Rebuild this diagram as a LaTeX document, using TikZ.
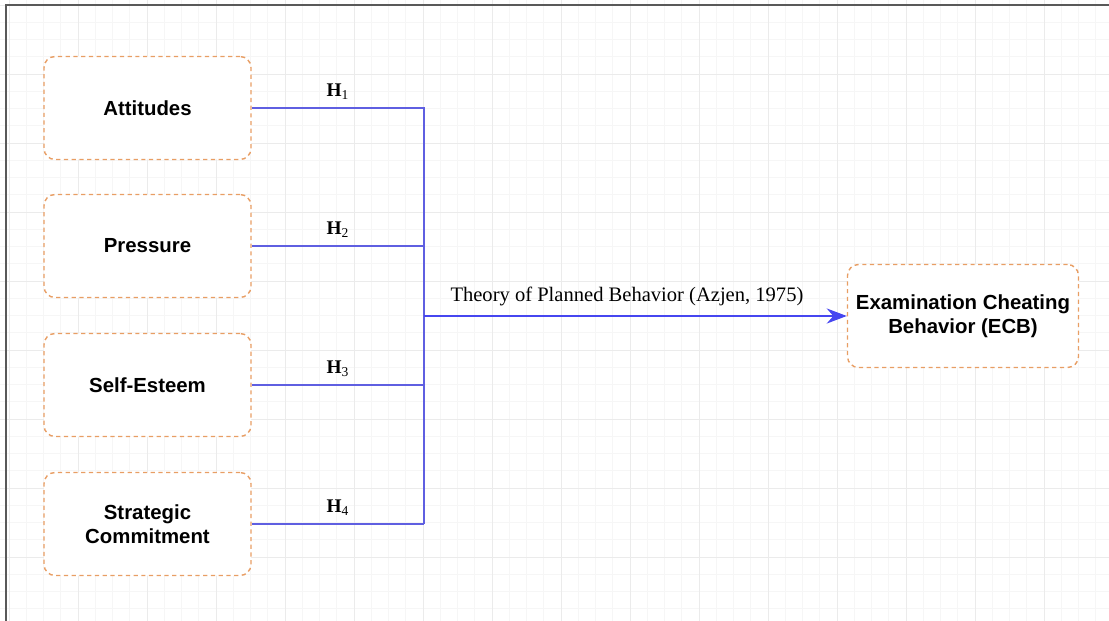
\documentclass[tikz,border=0pt]{standalone}
\usepackage{fontspec}
\setmainfont{Liberation Sans}
\newfontfamily\labelfont{Liberation Serif}
\usepackage{xcolor}
\usetikzlibrary{arrows.meta,positioning}

\definecolor{boxorange}{RGB}{232,158,100}
\definecolor{linkblue}{RGB}{95,95,225}
\definecolor{arrowblue}{RGB}{70,70,240}

\begin{document}
\begin{tikzpicture}[
  font=\fontsize{11.6}{13.5}\selectfont,
  box/.style={draw=boxorange, fill=white, rounded corners=0.22cm,
              dash pattern=on 2.4pt off 2pt, line width=0.8pt,
              minimum width=4.14cm, minimum height=2.06cm,
              align=center, font=\fontsize{11.6}{13.5}\selectfont\bfseries},
  link/.style={draw=linkblue, line width=1.1pt},
  ar/.style={-{Stealth[length=4mm, width=3mm]}, draw=arrowblue, line width=1.3pt},
  hlab/.style={above=1pt, font=\labelfont\fontsize{11}{13}\selectfont},
]

\useasboundingbox (0,0) rectangle (22.18,-12.42);

% grid
\foreach \x in {0.18,0.525,...,22.2}
  \draw[gray!7, line width=0.4pt] (\x,0) -- (\x,-12.42);
\foreach \y in {-0.1,-0.445,...,-12.42}
  \draw[gray!7, line width=0.4pt] (0,\y) -- (22.18,\y);
\foreach \x in {0.18,1.56,...,22.2}
  \draw[gray!16, line width=0.5pt] (\x,0) -- (\x,-12.42);
\foreach \y in {-0.1,-1.48,...,-12.42}
  \draw[gray!16, line width=0.5pt] (0,\y) -- (22.18,\y);

% frame
\draw[black!65, line width=1pt] (0.12,-12.42) -- (0.12,-0.1) -- (22.18,-0.1);

\node[box] (att) at (2.95,-2.16)  {Attitudes};
\node[box] (pre) at (2.95,-4.92)  {Pressure};
\node[box] (sel) at (2.95,-7.70)  {Self-Esteem};
\node[box] (str) at (2.95,-10.48) {Strategic\\Commitment};

\node[box, minimum width=4.62cm] (ecb) at (19.26,-6.32) {Examination Cheating\\Behavior (ECB)};

\coordinate (jn) at (8.48,-6.32);

\draw[link] (att.east) -- node[hlab] {\textbf{H}\textsubscript{1}} (att.east -| jn) -- (str.east -| jn);
\draw[link] (pre.east) -- node[hlab] {\textbf{H}\textsubscript{2}} (pre.east -| jn);
\draw[link] (sel.east) -- node[hlab] {\textbf{H}\textsubscript{3}} (sel.east -| jn);
\draw[link] (str.east) -- node[hlab] {\textbf{H}\textsubscript{4}} (str.east -| jn);

\draw[ar] (jn) -- node[above=2pt, pos=0.48, font=\labelfont\fontsize{11.7}{13}\selectfont]
  {Theory of Planned Behavior (Azjen, 1975)} (ecb.west);

\end{tikzpicture}
\end{document}
